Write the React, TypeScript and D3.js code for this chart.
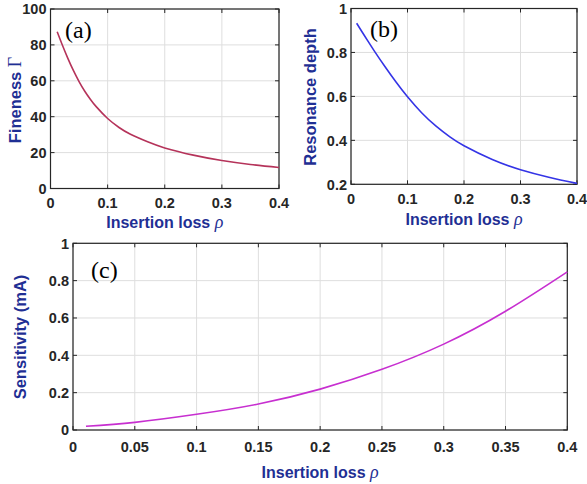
import React from 'react';
import * as d3 from 'd3';

// (a) fineness vs insertion loss
const rhoA = [0.0117, 0.02, 0.03, 0.04, 0.05, 0.06, 0.07, 0.08, 0.1, 0.12, 0.14, 0.17, 0.2, 0.25, 0.3, 0.35, 0.4];
const finesse = [87.3, 80.5, 72.8, 65.8, 59.6, 54.2, 49.6, 45.6, 39.0, 34.0, 30.2, 26.0, 22.6, 18.6, 15.6, 13.4, 11.7];

// (b) resonance depth
const rhoB = [0.01, 0.02, 0.03, 0.042, 0.06, 0.08, 0.1, 0.125, 0.15, 0.175, 0.2, 0.25, 0.3, 0.35, 0.4];
const depth = [0.933, 0.892, 0.8515, 0.804, 0.736, 0.664, 0.598, 0.5255, 0.4655, 0.4155, 0.3755, 0.313, 0.2665, 0.2325, 0.204];

// (c) sensitivity
const rhoC = [0.0105, 0.05, 0.1, 0.15, 0.2, 0.25, 0.3, 0.35, 0.4];
const sensitivity = [0.02, 0.041, 0.084, 0.139, 0.219, 0.325, 0.46, 0.636, 0.847];

const xTicksAB = [0, 0.1, 0.2, 0.3, 0.4];
const xTicksC = [0, 0.05, 0.1, 0.15, 0.2, 0.25, 0.3, 0.35, 0.4];
const yTicksA = [0, 20, 40, 60, 80, 100];
const yTicksB = [0.2, 0.4, 0.6, 0.8, 1];
const yTicksC = [0, 0.2, 0.4, 0.6, 0.8, 1];

const axisColor = '#262626';
const labelColor = '#1f2f94';
const gridColor = '#dedede';
const sans = 'Arial, "Liberation Sans", sans-serif';
const serif = '"Times New Roman", "Liberation Serif", serif';

type PanelProps = {
  box: { x0: number; x1: number; y0: number; y1: number };
  xs: number[];
  ys: number[];
  yDomain: [number, number];
  xTicks: number[];
  yTicks: number[];
  color: string;
  tag: string;
  tagPos: [number, number];
  ylabel: React.ReactNode;
  ylabelPos: [number, number];
  xlabelY: number;
  tickY: number;
};

function Panel(p: PanelProps) {
  const x = d3.scaleLinear().domain([0, 0.4]).range([p.box.x0, p.box.x1]);
  const y = d3.scaleLinear().domain(p.yDomain).range([p.box.y1, p.box.y0]);
  const pts = p.xs.map((v, i) => [v, p.ys[i]] as [number, number]);
  const line = d3
    .line<[number, number]>()
    .x((d) => x(d[0]))
    .y((d) => y(d[1]))
    .curve(d3.curveNatural);
  const tl = 4;
  return (
    <g>
      {p.xTicks.map((t) => (
        <line key={'gx' + t} x1={x(t)} x2={x(t)} y1={p.box.y0} y2={p.box.y1} stroke={gridColor} strokeWidth={1} />
      ))}
      {p.yTicks.map((t) => (
        <line key={'gy' + t} x1={p.box.x0} x2={p.box.x1} y1={y(t)} y2={y(t)} stroke={gridColor} strokeWidth={1} />
      ))}
      {p.xTicks.map((t) => (
        <g key={'tx' + t}>
          <line x1={x(t)} x2={x(t)} y1={p.box.y1} y2={p.box.y1 - tl} stroke={axisColor} />
          <line x1={x(t)} x2={x(t)} y1={p.box.y0} y2={p.box.y0 + tl} stroke={axisColor} />
          <text x={x(t)} y={p.tickY} textAnchor="middle" fontFamily={sans} fontWeight="bold" fontSize={14.5} fill={axisColor}>
            {String(t)}
          </text>
        </g>
      ))}
      {p.yTicks.map((t) => (
        <g key={'ty' + t}>
          <line x1={p.box.x0} x2={p.box.x0 + tl} y1={y(t)} y2={y(t)} stroke={axisColor} />
          <line x1={p.box.x1} x2={p.box.x1 - tl} y1={y(t)} y2={y(t)} stroke={axisColor} />
          <text x={p.box.x0 - 4} y={y(t)} dy="0.36em" textAnchor="end" fontFamily={sans} fontWeight="bold" fontSize={14.5} fill={axisColor}>
            {String(t)}
          </text>
        </g>
      ))}
      <rect
        x={p.box.x0}
        y={p.box.y0}
        width={p.box.x1 - p.box.x0}
        height={p.box.y1 - p.box.y0}
        fill="none"
        stroke={axisColor}
        strokeWidth={1.2}
      />
      <path d={line(pts) ?? ''} fill="none" stroke={p.color} strokeWidth={1.6} />
      <text x={p.tagPos[0]} y={p.tagPos[1]} fontFamily={serif} fontSize={24} fill="#000">
        {p.tag}
      </text>
      <text
        x={(p.box.x0 + p.box.x1) / 2}
        y={p.xlabelY}
        textAnchor="middle"
        fontFamily={sans}
        fontWeight="bold"
        fontSize={16}
        fill={labelColor}
      >
        Insertion loss{' '}
        <tspan fontFamily={serif} fontStyle="italic" fontWeight="normal" fontSize={18}>
          ρ
        </tspan>
      </text>
      <text
        transform={`translate(${p.ylabelPos[0]},${p.ylabelPos[1]}) rotate(-90)`}
        textAnchor="middle"
        dy="0.36em"
        fontFamily={sans}
        fontWeight="bold"
        fontSize={16.5}
        fill={labelColor}
      >
        {p.ylabel}
      </text>
    </g>
  );
}

export default function App() {
  return (
    <svg width={587} height={484} style={{ position: 'absolute', left: 0, top: 0, background: '#fff' }}>
      <rect width={587} height={484} fill="#fff" />
      <Panel
        box={{ x0: 50.5, x1: 279, y0: 9, y1: 188.5 }}
        xs={rhoA}
        ys={finesse}
        yDomain={[0, 100]}
        xTicks={xTicksAB}
        yTicks={yTicksA}
        color="#b5335a"
        tag="(a)"
        tagPos={[65, 38]}
        ylabel={
          <>
            Fineness{' '}
            <tspan fontFamily={serif} fontWeight="normal" fontSize={18}>
              Γ
            </tspan>
          </>
        }
        ylabelPos={[15, 100]}
        xlabelY={228}
        tickY={208}
      />
      <Panel
        box={{ x0: 351, x1: 577, y0: 8.5, y1: 184.3 }}
        xs={rhoB}
        ys={depth}
        yDomain={[0.2, 1]}
        xTicks={xTicksAB}
        yTicks={yTicksB}
        color="#3434e6"
        tag="(b)"
        tagPos={[370, 37]}
        ylabel="Resonance depth"
        ylabelPos={[310, 97]}
        xlabelY={225}
        tickY={204}
      />
      <Panel
        box={{ x0: 73, x1: 567.3, y0: 243.3, y1: 430 }}
        xs={rhoC}
        ys={sensitivity}
        yDomain={[0, 1]}
        xTicks={xTicksC}
        yTicks={yTicksC}
        color="#c72fd0"
        tag="(c)"
        tagPos={[91, 278]}
        ylabel="Sensitivity (mA)"
        ylabelPos={[20, 337]}
        xlabelY={478}
        tickY={452}
      />
    </svg>
  );
}
